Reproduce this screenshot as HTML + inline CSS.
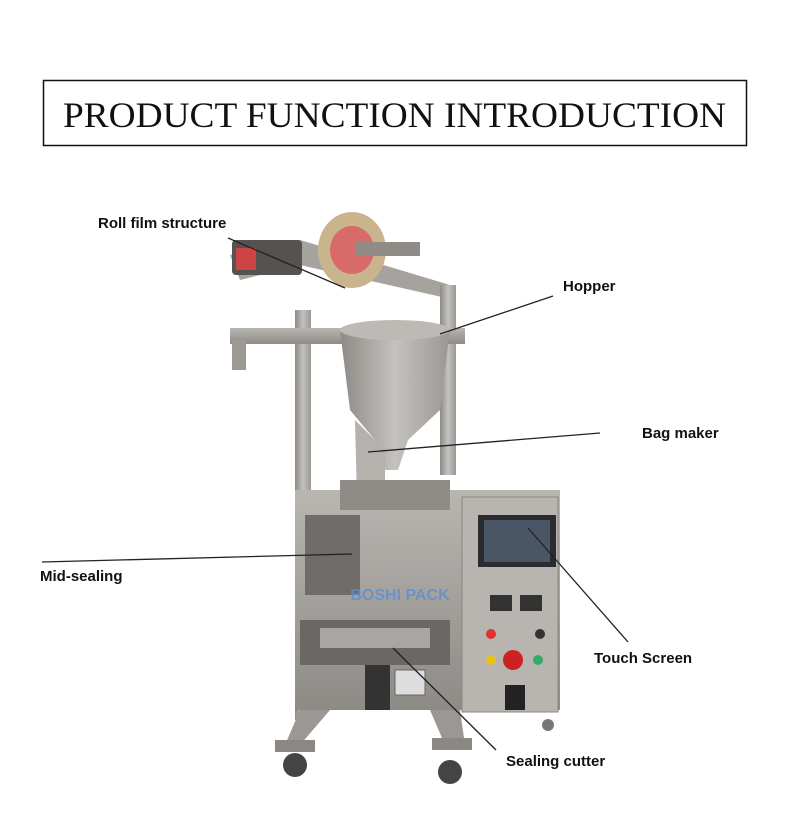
<!DOCTYPE html>
<html><head><meta charset="utf-8"><style>
html,body{margin:0;padding:0;background:#fff;width:790px;height:839px;overflow:hidden}
</style></head><body>
<svg width="790" height="839" viewBox="0 0 790 839" xmlns="http://www.w3.org/2000/svg">
<defs>
<linearGradient id="steel" x1="0" x2="1"><stop offset="0" stop-color="#8d8a86"/><stop offset="0.5" stop-color="#c4c2bf"/><stop offset="1" stop-color="#9a9794"/></linearGradient>
<linearGradient id="steel2" x1="0" x2="0" y1="0" y2="1"><stop offset="0" stop-color="#b9b6b2"/><stop offset="1" stop-color="#8e8b87"/></linearGradient>
</defs>
<rect x="43.5" y="80.5" width="703" height="65" fill="#fff" stroke="#111" stroke-width="1.5"/>
<text x="63" y="127" textLength="663" lengthAdjust="spacingAndGlyphs" font-family="Liberation Serif,serif" font-size="36" fill="#111">PRODUCT FUNCTION INTRODUCTION</text>

<polygon points="230,255 300,240 450,285 455,300 300,265 240,280" fill="#a6a39f"/>
<rect x="440" y="285" width="16" height="190" fill="url(#steel)"/>
<rect x="295" y="310" width="16" height="410" fill="url(#steel)"/>
<rect x="230" y="328" width="235" height="16" fill="url(#steel2)"/>
<rect x="232" y="340" width="14" height="30" fill="#9d9a96"/>
<rect x="232" y="240" width="70" height="35" rx="4" fill="#55524f"/>
<rect x="236" y="248" width="20" height="22" fill="#c44"/>
<ellipse cx="352" cy="250" rx="34" ry="38" fill="#c9b48e"/>
<ellipse cx="352" cy="250" rx="22" ry="24" fill="#d96a6a"/>
<rect x="355" y="242" width="65" height="14" fill="#8f8c88"/>
<polygon points="340,330 450,330 440,410 408,440 398,470 385,470 375,440 350,410" fill="url(#steel)"/>
<ellipse cx="395" cy="330" rx="55" ry="10" fill="#bdbab6"/>
<polygon points="355,420 385,450 385,620 360,620" fill="#b5b2ae"/>
<rect x="295" y="490" width="265" height="220" fill="url(#steel2)"/>
<rect x="340" y="480" width="110" height="30" fill="#8f8c88"/>
<rect x="305" y="515" width="55" height="80" fill="#6f6c69"/>
<rect x="462" y="497" width="96" height="215" fill="#b8b5b1" stroke="#8a8783"/>
<rect x="478" y="515" width="78" height="52" fill="#2a2c30"/>
<rect x="484" y="520" width="66" height="42" fill="#4a5566"/>
<rect x="490" y="595" width="22" height="16" fill="#333"/>
<rect x="520" y="595" width="22" height="16" fill="#333"/>
<circle cx="491" cy="634" r="5" fill="#d33"/><circle cx="540" cy="634" r="5" fill="#333"/>
<circle cx="491" cy="660" r="5" fill="#e8c21c"/><circle cx="513" cy="660" r="10" fill="#c22"/><circle cx="538" cy="660" r="5" fill="#3a6"/>
<rect x="505" y="685" width="20" height="25" fill="#222"/>
<rect x="300" y="620" width="150" height="45" fill="#6a6764"/>
<rect x="320" y="628" width="110" height="20" fill="#a9a6a2"/>
<rect x="365" y="665" width="25" height="45" fill="#333"/>
<rect x="395" y="670" width="30" height="25" fill="#ddd" stroke="#666"/>
<text x="400" y="600" text-anchor="middle" font-family="Liberation Sans,sans-serif" font-weight="bold" font-size="16" fill="#5b8fd6" opacity="0.8">BOSHI PACK</text>
<polygon points="300,710 330,710 300,745 285,745" fill="#9a9794"/>
<polygon points="430,710 460,710 465,745 445,745" fill="#9a9794"/>
<rect x="275" y="740" width="40" height="12" fill="#8b8884"/>
<rect x="432" y="738" width="40" height="12" fill="#8b8884"/>
<circle cx="295" cy="765" r="12" fill="#444"/><circle cx="450" cy="772" r="12" fill="#444"/>
<circle cx="548" cy="725" r="6" fill="#777"/>

<g stroke="#222" stroke-width="1.3" fill="none">
<line x1="228" y1="238" x2="345" y2="288"/>
<line x1="553" y1="296" x2="440" y2="334"/>
<line x1="600" y1="433" x2="368" y2="452"/>
<line x1="42" y1="562" x2="352" y2="554"/>
<line x1="628" y1="642" x2="528" y2="528"/>
<line x1="496" y1="750" x2="393" y2="648"/>
</g>
<g font-family="Liberation Sans,sans-serif" font-size="15" font-weight="bold" fill="#111">
<text x="98" y="228">Roll film structure</text>
<text x="563" y="291">Hopper</text>
<text x="642" y="438">Bag maker</text>
<text x="40" y="581">Mid-sealing</text>
<text x="594" y="663">Touch Screen</text>
<text x="506" y="766">Sealing cutter</text>
</g>
</svg>
</body></html>
